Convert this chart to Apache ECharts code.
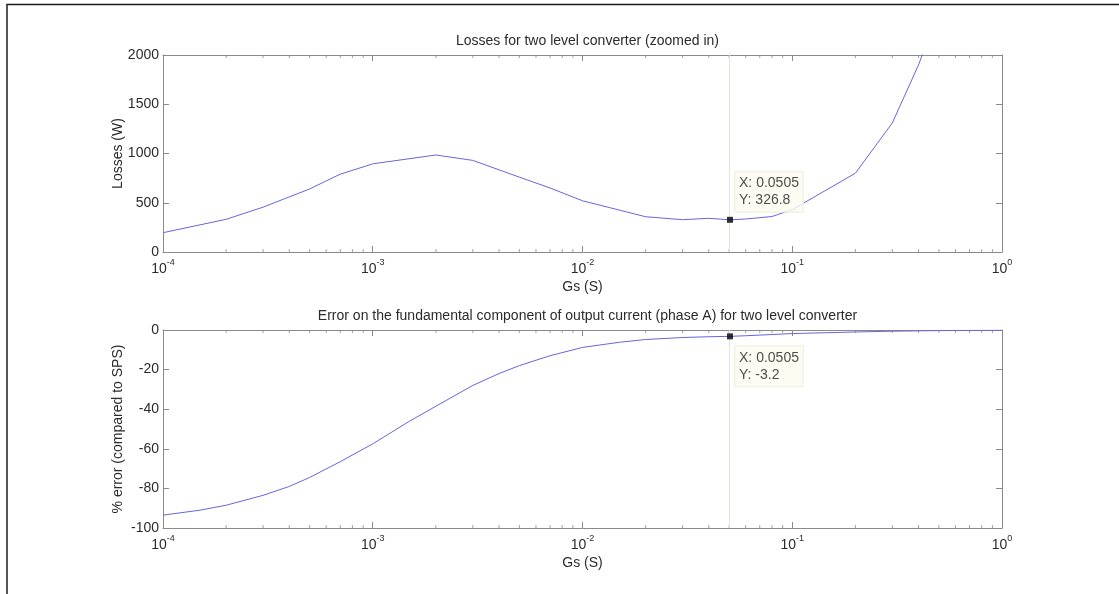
<!DOCTYPE html>
<html>
<head>
<meta charset="utf-8">
<title>Two level converter: losses and current error vs Gs</title>
<script src="https://cdn.jsdelivr.net/npm/echarts@6/dist/echarts.min.js"></script>
<style>
  html, body { margin: 0; padding: 0; background: #fff; }
  #chart { width: 1119px; height: 594px; }
</style>
</head>
<body>
<div id="chart"></div>
<script>
// Snubber conductance Gs (S) and the losses of the two level converter (W)
const gsLosses = [1e-4, 2e-4, 3e-4, 5e-4, 7e-4, 1e-3, 2e-3, 3e-3, 5e-3, 7e-3, 1e-2,
                  2e-2, 3e-2, 4e-2, 0.0505, 0.06, 0.08, 0.1, 0.2, 0.3, 0.4, 0.5];
const losses   = [196, 332, 455, 640, 790, 895, 985, 930, 760, 650, 520,
                  358, 328, 342, 326.8, 335, 360, 430, 800, 1310, 1900, 2450];

// Error on the fundamental of phase A output current (% vs SPS)
const gsError = [1e-4, 1.5e-4, 2e-4, 3e-4, 4e-4, 5e-4, 7e-4, 1e-3, 1.5e-3, 2e-3, 3e-3, 4e-3,
                 5e-3, 7e-3, 1e-2, 1.5e-2, 2e-2, 3e-2, 4e-2, 0.0505, 0.06, 0.08, 0.1, 0.2,
                 0.3, 0.5, 0.7, 1];
const errorPct = [-93.5, -91, -88.5, -83.5, -79, -74.5, -66.5, -57.5, -46, -38.5, -28, -22,
                  -18, -13, -8.8, -6.2, -4.8, -3.8, -3.4, -3.2, -2.9, -2.3, -1.8, -1.0,
                  -0.6, -0.3, -0.2, -0.1];

// Data tips
const tipGs = 0.0505;
const tipLosses = 326.8;
const tipError = -3.2;

// Axis ticks
const xTickExponents = ['-4', '-3', '-2', '-1', '0'];
const minorGs = [];
for (let k = -4; k <= -1; k++) {
  for (let m = 2; m <= 9; m++) minorGs.push(+(m * Math.pow(10, k)).toPrecision(3));
}

const FONT = '"Liberation Sans", Arial, Helvetica, sans-serif';
const TEXT = '#2b2b2b';
const AXIS = '#8a8a8a';
const LINE = '#6666dd';

const chart = echarts.init(document.getElementById('chart'), null, { renderer: 'canvas' });

function logXAxis(gridIndex, position, showLabels) {
  return {
    type: 'log', logBase: 10, gridIndex, position,
    min: 1e-4, max: 1,
    name: showLabels ? 'Gs (S)' : '',
    nameLocation: 'middle', nameGap: 28, nameMoveOverlap: false,
    nameTextStyle: { color: TEXT, fontFamily: FONT, fontSize: 14 },
    axisLine: { show: true, onZero: false, lineStyle: { color: AXIS, width: 1 } },
    axisTick: { show: true, inside: true, length: 6, lineStyle: { color: AXIS } },
    splitLine: { show: false },
    minorTick: { show: false },
    axisLabel: {
      show: showLabels, margin: 6, color: TEXT, fontFamily: FONT,
      formatter: (v, i) => '{b|10}{s|' + xTickExponents[i] + '}',
      rich: {
        b: { fontSize: 14, fontFamily: FONT, color: TEXT, lineHeight: 18, verticalAlign: 'bottom' },
        s: { fontSize: 9, fontFamily: FONT, color: TEXT, lineHeight: 9, verticalAlign: 'top' }
      }
    }
  };
}

function linYAxis(gridIndex, position, min, max, interval, name) {
  return {
    type: 'value', gridIndex, position, min, max, interval,
    name: name || '', nameLocation: 'middle', nameGap: 38, nameMoveOverlap: false,
    nameTextStyle: { color: TEXT, fontFamily: FONT, fontSize: 14 },
    axisLine: { show: true, onZero: false, lineStyle: { color: AXIS, width: 1 } },
    axisTick: { show: true, inside: true, length: 6, lineStyle: { color: AXIS } },
    splitLine: { show: false },
    axisLabel: { show: !!name, margin: 4, color: TEXT, fontFamily: FONT, fontSize: 14,
                 formatter: v => String(v) }
  };
}

// Minor log ticks (2..9 per decade): short marks standing on one edge of a grid
function minorTickSeries(xAxisIndex, yAxisIndex, yEdge, inward) {
  return {
    type: 'scatter', xAxisIndex, yAxisIndex, silent: true, z: 3, clip: false,
    data: minorGs.map(v => [v, yEdge]),
    symbol: 'rect', symbolSize: [1, 3], symbolOffset: [0, inward * 1.5],
    itemStyle: { color: AXIS },
    emphasis: { disabled: true }
  };
}

const tipLabel = (offset) => ({
  show: true,
  position: offset,
  formatter: p => 'X: ' + p.value[0] + '\nY: ' + p.value[1],
  color: '#222', fontFamily: FONT, fontSize: 14, lineHeight: 17,
  backgroundColor: '#fbfbf0', borderColor: '#ececdc', borderWidth: 1,
  padding: [3, 4, 3, 4], align: 'left', verticalAlign: 'top'
});

const cursorLine = {
  silent: true, symbol: 'none', animation: false,
  label: { show: false },
  lineStyle: { color: '#e3e3da', width: 1, type: 'solid' },
  data: [{ xAxis: tipGs }]
};

chart.setOption({
  animation: false,
  backgroundColor: '#ffffff',
  textStyle: { fontFamily: FONT },
  title: [
    { text: 'Losses for two level converter (zoomed in)', left: 582.5, top: 29, textAlign: 'center',
      textStyle: { fontFamily: FONT, fontSize: 14, fontWeight: 'normal', color: TEXT } },
    { text: 'Error on the fundamental component of output current (phase A) for two level converter',
      left: 582.5, top: 304, textAlign: 'center',
      textStyle: { fontFamily: FONT, fontSize: 14, fontWeight: 'normal', color: TEXT } }
  ],
  grid: [
    { left: 163, top: 55, width: 839, height: 197 },
    { left: 163, top: 330, width: 839, height: 198 }
  ],
  xAxis: [
    logXAxis(0, 'bottom', true),
    logXAxis(0, 'top', false),
    logXAxis(1, 'bottom', true),
    logXAxis(1, 'top', false)
  ],
  yAxis: [
    linYAxis(0, 'left', 0, 2000, 500, 'Losses (W)'),
    linYAxis(0, 'right', 0, 2000, 500, ''),
    linYAxis(1, 'left', -100, 0, 20, '% error (compared to SPS)'),
    linYAxis(1, 'right', -100, 0, 20, '')
  ],
  graphic: [
    { type: 'polyline', silent: true, z: 100,
      shape: { points: [[7, 594], [7, 4.5], [1119, 4.5]] },
      style: { stroke: '#1e1e1e', lineWidth: 1.5, fill: null } }
  ],
  series: [
    minorTickSeries(0, 0, 0, -1),
    minorTickSeries(0, 0, 2000, 1),
    minorTickSeries(2, 2, -100, -1),
    minorTickSeries(2, 2, 0, 1),
    {
      type: 'line', xAxisIndex: 0, yAxisIndex: 0, z: 4,
      data: gsLosses.map((g, i) => [g, losses[i]]),
      showSymbol: false, symbol: 'none', clip: true,
      lineStyle: { color: LINE, width: 1 },
      markLine: cursorLine
    },
    {
      type: 'line', xAxisIndex: 2, yAxisIndex: 2, z: 4,
      data: gsError.map((g, i) => [g, errorPct[i]]),
      showSymbol: false, symbol: 'none', clip: true,
      lineStyle: { color: LINE, width: 1 },
      markLine: cursorLine
    },
    {
      type: 'scatter', xAxisIndex: 0, yAxisIndex: 0, z: 10,
      data: [[tipGs, tipLosses]],
      symbol: 'rect', symbolSize: 6, itemStyle: { color: '#000' },
      label: tipLabel([8, -45])
    },
    {
      type: 'scatter', xAxisIndex: 2, yAxisIndex: 2, z: 10,
      data: [[tipGs, tipError]],
      symbol: 'rect', symbolSize: 6, itemStyle: { color: '#000' },
      label: tipLabel([8, 13])
    }
  ]
});
</script>
</body>
</html>
